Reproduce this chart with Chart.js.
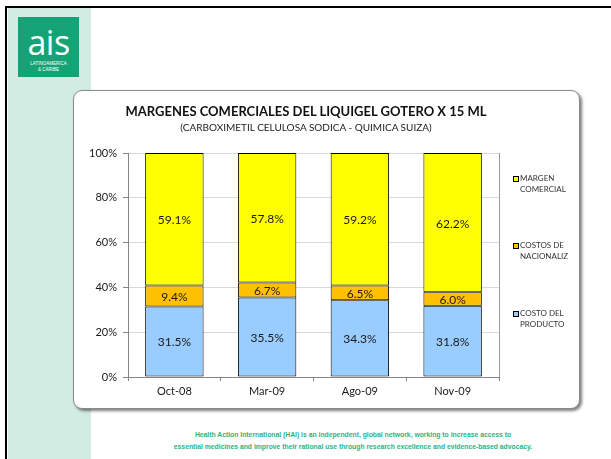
<!DOCTYPE html>
<html>
<head>
<meta charset="utf-8">
<script src="https://cdn.jsdelivr.net/npm/chart.js@4.4.1/dist/chart.umd.min.js"></script>
<style>
  body { margin: 0; width: 611px; height: 459px; position: relative; overflow: hidden; background: #fff; font-family: Lato, "Liberation Sans", sans-serif; }
  .abs { position: absolute; }
  #strip { left: 8px; top: 8px; width: 83px; height: 451px; background: #d3ece3; }
  #lineTop { left: 5px; top: 6px; width: 606px; height: 2px; background: #000; }
  #lineLeft { left: 5px; top: 6px; width: 2px; height: 453px; background: #000; }
  #logo { left: 18px; top: 17px; width: 61px; height: 60px; background: #14a374; color: #fff; text-align: center; }
  #logo .big { font-family: "Open Sans", "Liberation Sans", sans-serif; font-size: 34px; line-height: 30px; margin-top: 10px; letter-spacing: -0.5px; }
  #logo .small { font-family: "Liberation Sans", Arial, sans-serif; font-size: 4.5px; line-height: 6px; margin-top: 4px; }
  #box { left: 73px; top: 90px; width: 505px; height: 317px; background: #fff; border: 1px solid #8a8a8a; border-radius: 9px; box-shadow: 2px 2px 3px rgba(0,0,0,0.5); }
  #chartWrap { left: 73px; top: 90px; width: 506px; height: 318px; }
  #title { left: 106px; top: 103px; width: 400px; text-align: center; font-size: 13px; font-weight: bold; color: #111; line-height: 17px; }
  #subtitle { left: 106px; top: 121px; width: 400px; text-align: center; font-size: 10px; color: #222; line-height: 13px; }
  .leg { position: absolute; left: 513px; font-size: 8px; line-height: 11px; color: #333; }
  .leg i { position: absolute; left: 0; top: 3px; width: 4px; height: 4px; border: 1px solid #000; }
  .leg span { display: block; margin-left: 7px; }
  #footer { left: 91px; top: 429px; width: 524px; text-align: center; color: #2db37f; font-family: "Liberation Sans", Arial, sans-serif; font-weight: bold; font-size: 6.8px; line-height: 12px; }
</style>
</head>
<body>
<div class="abs" id="strip"></div>
<div class="abs" id="lineTop"></div>
<div class="abs" id="lineLeft"></div>
<div class="abs" id="logo">
  <div class="big">ais</div>
  <div class="small">LATINOAMERICA<br>&amp; CARIBE</div>
</div>
<div class="abs" id="box"></div>
<div class="abs" id="chartWrap"><canvas id="chart" width="506" height="318"></canvas></div>
<div class="abs" id="title">MARGENES COMERCIALES DEL LIQUIGEL GOTERO X 15 ML</div>
<div class="abs" id="subtitle">(CARBOXIMETIL CELULOSA SODICA - QUIMICA SUIZA)</div>
<div class="leg" style="top:173px"><i style="background:#FFFF00"></i><span>MARGEN<br>COMERCIAL</span></div>
<div class="leg" style="top:240px"><i style="background:#FFC000"></i><span>COSTOS DE<br>NACIONALIZ</span></div>
<div class="leg" style="top:308px"><i style="background:#99CCFF"></i><span>COSTO DEL<br>PRODUCTO</span></div>
<div class="abs" id="footer">Health Action International (HAI) is an independent, global network, working to increase access to<br>essential medicines and improve their rational use through research excellence and evidence-based advocacy.</div>

<script>
const categories = ["Oct-08", "Mar-09", "Ago-09", "Nov-09"];
const costoProducto = [31.5, 35.5, 34.3, 31.8];
const costosNacionaliz = [9.4, 6.7, 6.5, 6.0];
const margenComercial = [59.1, 57.8, 59.2, 62.2];
const yTicks = [0, 20, 40, 60, 80, 100];

// value labels in the middle of each segment
const barLabels = {
    id: "barLabels",
    afterDatasetsDraw(chart) {
        const ctx = chart.ctx;
        const area = chart.chartArea;
        ctx.save();
        // plot area right border
        ctx.strokeStyle = "#9a9a9a";
        ctx.lineWidth = 1;
        ctx.beginPath();
        ctx.moveTo(Math.round(area.right) + 0.5, area.top);
        ctx.lineTo(Math.round(area.right) + 0.5, area.bottom);
        ctx.stroke();

        ctx.font = "12px Lato";
        ctx.fillStyle = "#1a1a1a";
        ctx.textAlign = "center";
        ctx.textBaseline = "middle";
        chart.data.datasets.forEach((ds, i) => {
            chart.getDatasetMeta(i).data.forEach((bar, j) => {
                const p = bar.getCenterPoint();
                ctx.fillText(ds.data[j].toFixed(1) + "%", p.x, p.y + 1);
            });
        });
        ctx.restore();
    }
};

const ctx = document.getElementById("chart").getContext("2d");
new Chart(ctx, {
    type: "bar",
    data: {
        labels: categories,
        datasets: [
            { label: "COSTO DEL PRODUCTO", data: costoProducto, backgroundColor: "#99CCFF" },
            { label: "COSTOS DE NACIONALIZ", data: costosNacionaliz, backgroundColor: "#FFC000" },
            { label: "MARGEN COMERCIAL", data: margenComercial, backgroundColor: "#FFFF00" }
        ].map(d => Object.assign(d, {
            borderColor: "#000",
            borderWidth: 1,
            borderSkipped: false,
            barPercentage: 1,
            categoryPercentage: 0.63
        }))
    },
    options: {
        responsive: false,
        animation: false,
        devicePixelRatio: 1,
        layout: { padding: { left: 0, right: 80, top: 63, bottom: 7 } },
        plugins: {
            legend: { display: false },
            tooltip: { enabled: false }
        },
        scales: {
            x: {
                stacked: true,
                grid: { drawOnChartArea: false, tickLength: 4, tickColor: "#868686", offset: true },
                border: { color: "#868686" },
                ticks: { color: "#1a1a1a", font: { family: "Lato", size: 11 }, padding: 4 },
                afterFit(scale) { scale.height = 24; }
            },
            y: {
                stacked: true,
                min: 0,
                max: 100,
                afterBuildTicks(scale) { scale.ticks = yTicks.map(v => ({ value: v })); },
                grid: { color: "#d9d9d9", tickLength: 5, tickColor: "#868686" },
                border: { color: "#868686" },
                ticks: { color: "#1a1a1a", font: { family: "Lato", size: 11 }, padding: 6, callback: v => v + "%" },
                afterFit(scale) { scale.width = 55; }
            }
        }
    },
    plugins: [barLabels]
});
</script>
</body>
</html>
